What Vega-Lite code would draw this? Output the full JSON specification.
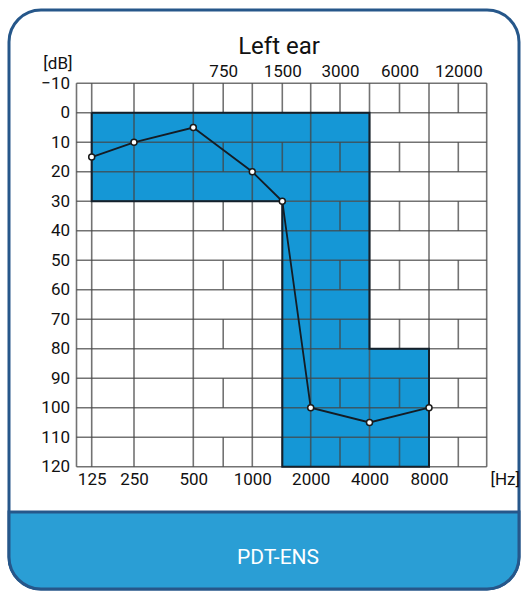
{
  "$schema": "https://vega.github.io/schema/vega-lite/v6.json",
  "width": 510,
  "height": 579,
  "autosize": {"type": "none"},
  "padding": {"left": 9, "top": 10, "right": 6, "bottom": 4},
  "background": "#ffffff",
  "title": {
    "text": "PDT-ENS",
    "orient": "bottom",
    "anchor": "middle",
    "frame": "group",
    "offset": -27,
    "baseline": "alphabetic",
    "dx": 14,
    "color": "#ffffff",
    "fontSize": 21,
    "fontWeight": "normal",
    "font": "Roboto, Liberation Sans, sans-serif"
  },
  "datasets": {
    "banner": [{"f": 50, "f2": 24000, "db": 135.36, "db2": 161.47}],
    "fill": [
      {"f": 125, "f2": 4000, "db": 0, "db2": 30},
      {"f": 1500, "f2": 4000, "db": 30, "db2": 120},
      {"f": 4000, "f2": 8000, "db": 80, "db2": 120}
    ],
    "hlines": [
      {"f": 100, "f2": 16000, "db": -10}, {"f": 100, "f2": 16000, "db": 0},
      {"f": 100, "f2": 16000, "db": 10}, {"f": 100, "f2": 16000, "db": 20},
      {"f": 100, "f2": 16000, "db": 30}, {"f": 100, "f2": 16000, "db": 40},
      {"f": 100, "f2": 16000, "db": 50}, {"f": 100, "f2": 16000, "db": 60},
      {"f": 100, "f2": 16000, "db": 70}, {"f": 100, "f2": 16000, "db": 80},
      {"f": 100, "f2": 16000, "db": 90}, {"f": 100, "f2": 16000, "db": 100},
      {"f": 100, "f2": 16000, "db": 110}, {"f": 100, "f2": 16000, "db": 120}
    ],
    "vlines": [
      {"f": 100, "db": -10, "db2": 120}, {"f": 125, "db": -10, "db2": 120},
      {"f": 250, "db": -10, "db2": 120}, {"f": 500, "db": -10, "db2": 120},
      {"f": 1000, "db": -10, "db2": 120}, {"f": 2000, "db": -10, "db2": 120},
      {"f": 4000, "db": -10, "db2": 120}, {"f": 8000, "db": -10, "db2": 120},
      {"f": 16000, "db": -10, "db2": 120}
    ],
    "bricks": [
      {"f": 750, "db": -10, "db2": 0}, {"f": 750, "db": 10, "db2": 20}, {"f": 750, "db": 30, "db2": 40}, {"f": 750, "db": 50, "db2": 60}, {"f": 750, "db": 70, "db2": 80}, {"f": 750, "db": 90, "db2": 100}, {"f": 750, "db": 110, "db2": 120},
      {"f": 1500, "db": -10, "db2": 0}, {"f": 1500, "db": 10, "db2": 20}, {"f": 1500, "db": 30, "db2": 40}, {"f": 1500, "db": 50, "db2": 60}, {"f": 1500, "db": 70, "db2": 80}, {"f": 1500, "db": 90, "db2": 100}, {"f": 1500, "db": 110, "db2": 120},
      {"f": 3000, "db": -10, "db2": 0}, {"f": 3000, "db": 10, "db2": 20}, {"f": 3000, "db": 30, "db2": 40}, {"f": 3000, "db": 50, "db2": 60}, {"f": 3000, "db": 70, "db2": 80}, {"f": 3000, "db": 90, "db2": 100}, {"f": 3000, "db": 110, "db2": 120},
      {"f": 6000, "db": -10, "db2": 0}, {"f": 6000, "db": 10, "db2": 20}, {"f": 6000, "db": 30, "db2": 40}, {"f": 6000, "db": 50, "db2": 60}, {"f": 6000, "db": 70, "db2": 80}, {"f": 6000, "db": 90, "db2": 100}, {"f": 6000, "db": 110, "db2": 120},
      {"f": 12000, "db": -10, "db2": 0}, {"f": 12000, "db": 10, "db2": 20}, {"f": 12000, "db": 30, "db2": 40}, {"f": 12000, "db": 50, "db2": 60}, {"f": 12000, "db": 70, "db2": 80}, {"f": 12000, "db": 90, "db2": 100}, {"f": 12000, "db": 110, "db2": 120}
    ],
    "outline": [
      {"i": 0, "f": 125, "db": 0}, {"i": 1, "f": 4000, "db": 0},
      {"i": 2, "f": 4000, "db": 80}, {"i": 3, "f": 8000, "db": 80},
      {"i": 4, "f": 8000, "db": 120}, {"i": 5, "f": 1500, "db": 120},
      {"i": 6, "f": 1500, "db": 30}, {"i": 7, "f": 125, "db": 30},
      {"i": 8, "f": 125, "db": 0}
    ],
    "audio": [
      {"f": 125, "db": 15}, {"f": 250, "db": 10}, {"f": 500, "db": 5},
      {"f": 1000, "db": 20}, {"f": 1500, "db": 30}, {"f": 2000, "db": 100},
      {"f": 4000, "db": 105}, {"f": 8000, "db": 100}
    ]
  },
  "encoding": {
    "x": {"field": "f", "type": "quantitative", "axis": null,
      "scale": {"type": "linear", "domain": [50, 100, 125, 250, 500, 750, 1000, 1500, 2000, 3000, 4000, 6000, 8000, 12000, 16000, 24000], "range": [0, 67.5, 82.7, 125, 184.3, 214.2, 243.3, 273.3, 301.7, 331, 360.5, 390.5, 420, 449.3, 477.7, 510]}},
    "y": {"field": "db", "type": "quantitative", "axis": null,
      "scale": {"type": "linear", "domain": [-34.86, 161.47], "range": [0, 579], "nice": false, "zero": false}}
  },
  "layer": [
    {
      "data": {"name": "banner"},
      "mark": {"type": "rect", "fill": "#2a9ed5", "stroke": "#26578a", "strokeWidth": 3, "cornerRadiusBottomLeft": 32, "cornerRadiusBottomRight": 32},
      "encoding": {"x2": {"field": "f2"}, "y2": {"field": "db2"}}
    },
    {
      "data": {"name": "fill"},
      "mark": {"type": "rect", "fill": "#1597d6", "strokeWidth": 0},
      "encoding": {"x2": {"field": "f2"}, "y2": {"field": "db2"}}
    },
    {
      "data": {"name": "hlines"},
      "mark": {"type": "rule", "stroke": "#444444", "strokeOpacity": 0.75, "strokeWidth": 1.6},
      "encoding": {"x2": {"field": "f2"}}
    },
    {
      "data": {"name": "vlines"},
      "mark": {"type": "rule", "stroke": "#444444", "strokeOpacity": 0.75, "strokeWidth": 1.6},
      "encoding": {"y2": {"field": "db2"}}
    },
    {
      "data": {"name": "bricks"},
      "mark": {"type": "rule", "stroke": "#444444", "strokeOpacity": 0.75, "strokeWidth": 1.6},
      "encoding": {
        "x": {"field": "f", "type": "quantitative",
          "scale": {"type": "linear", "domain": [50, 100, 125, 250, 500, 750, 1000, 1500, 2000, 3000, 4000, 6000, 8000, 12000, 16000, 24000], "range": [0, 67.5, 82.7, 125, 184.3, 214.2, 243.3, 273.3, 301.7, 331, 360.5, 390.5, 420, 449.3, 477.7, 510]},
          "axis": {"orient": "top", "offset": -73.3, "values": [750, 1500, 3000, 6000, 12000], "format": "d", "domain": false, "ticks": false, "grid": false, "labelPadding": 3, "labelFontSize": 17, "labelColor": "#111111", "labelFont": "Roboto, Liberation Sans, sans-serif", "labelFlush": false, "labelOverlap": false,
            "title": "Left ear", "titleX": 269.5, "titleY": -30.3, "titleAlign": "center", "titleBaseline": "alphabetic", "titleAngle": 0, "titleFontSize": 24, "titleFontWeight": "normal", "titleColor": "#111111", "titleFont": "Roboto, Liberation Sans, sans-serif"}},
        "y2": {"field": "db2"}
      }
    },
    {
      "data": {"name": "outline"},
      "mark": {"type": "line", "stroke": "#14202b", "strokeWidth": 2, "strokeJoin": "miter"},
      "encoding": {"order": {"field": "i", "type": "quantitative"}}
    },
    {
      "data": {"name": "audio"},
      "mark": {"type": "line", "stroke": "#141c24", "strokeWidth": 1.8},
      "encoding": {}
    },
    {
      "data": {"name": "audio"},
      "mark": {"type": "point", "shape": "circle", "filled": true, "fill": "#ffffff", "stroke": "#1a1a1a", "strokeWidth": 1.5, "size": 36, "opacity": 1},
      "encoding": {
        "x": {"field": "f", "type": "quantitative",
          "scale": {"type": "linear", "domain": [50, 100, 125, 250, 500, 750, 1000, 1500, 2000, 3000, 4000, 6000, 8000, 12000, 16000, 24000], "range": [0, 67.5, 82.7, 125, 184.3, 214.2, 243.3, 273.3, 301.7, 331, 360.5, 390.5, 420, 449.3, 477.7, 510]},
          "axis": {"orient": "bottom", "offset": -122.3, "values": [125, 250, 500, 1000, 2000, 4000, 8000], "format": "d", "domain": false, "ticks": false, "grid": false, "labelPadding": 5, "labelFontSize": 17, "labelColor": "#111111", "labelFont": "Roboto, Liberation Sans, sans-serif", "labelFlush": false, "labelOverlap": false,
            "title": "[Hz]", "titleX": 495.7, "titleY": 5, "titleAlign": "center", "titleBaseline": "top", "titleAngle": 0, "titleFontSize": 17, "titleFontWeight": "normal", "titleColor": "#111111", "titleFont": "Roboto, Liberation Sans, sans-serif"}},
        "y": {"field": "db", "type": "quantitative",
          "scale": {"type": "linear", "domain": [-34.86, 161.47], "range": [0, 579], "nice": false, "zero": false},
          "axis": {"orient": "left", "offset": -67.5, "values": [-10, 0, 10, 20, 30, 40, 50, 60, 70, 80, 90, 100, 110, 120], "domain": false, "ticks": false, "grid": false, "labelPadding": 7, "labelFontSize": 17, "labelColor": "#111111", "labelFont": "Roboto, Liberation Sans, sans-serif", "labelOverlap": false, "labelFlush": false,
            "title": "[dB]", "titleX": -4.5, "titleY": 53, "titleAlign": "right", "titleBaseline": "middle", "titleAngle": 0, "titleFontSize": 17, "titleFontWeight": "normal", "titleColor": "#111111", "titleFont": "Roboto, Liberation Sans, sans-serif"}}
      }
    }
  ],
  "resolve": {"axis": {"x": "independent", "y": "independent"}},
  "config": {
    "view": {"stroke": "#26578a", "strokeWidth": 3, "cornerRadius": 32, "fill": "#ffffff"}
  }
}
